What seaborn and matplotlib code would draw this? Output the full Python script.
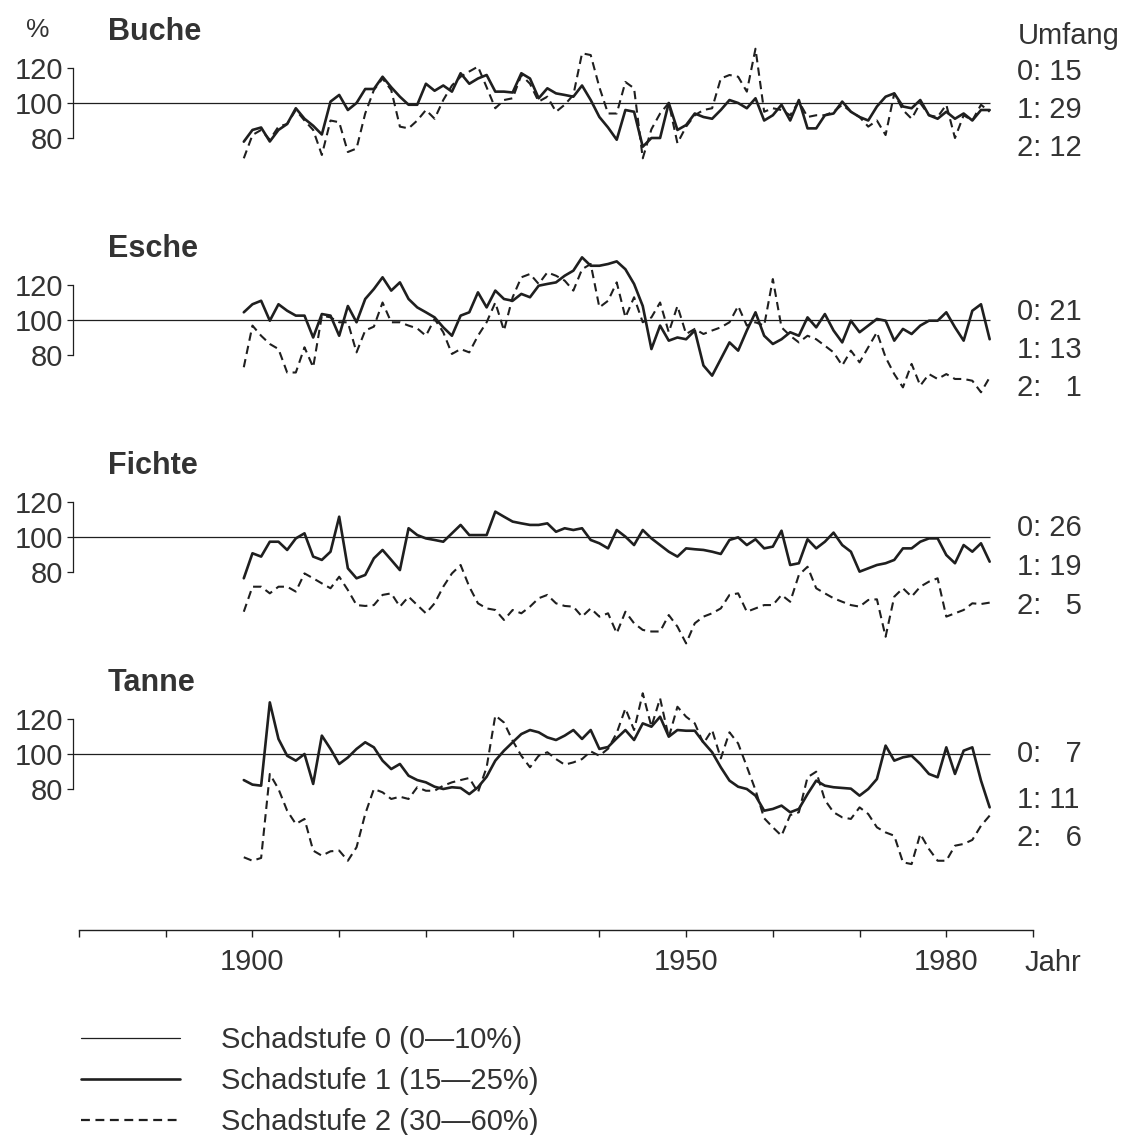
import matplotlib
matplotlib.use("Agg")
import matplotlib.pyplot as plt
import pandas as pd
import seaborn as sns
from matplotlib.lines import Line2D

# ---------------- data ----------------
years = list(range(1899, 1986))

buche_1 = [77.9, 84.6, 86, 78, 84.6, 88, 97, 91, 87, 82, 100.8, 104.6, 96, 100, 108, 108, 115, 109,
           103.6, 99, 99, 111, 107, 110, 106.5, 117, 111, 114, 116, 106.5, 106.5, 106, 117, 114, 102.7,
           108.4, 105.5, 104.6, 103.6, 110, 101.7, 92, 86, 79, 96, 95, 75, 80, 80, 100, 84.6, 87.4, 94,
           92, 91, 96, 101.7, 100, 97, 102.7, 90, 93, 99, 90, 101.7, 85.5, 85.5, 93, 94, 100.8, 95, 92,
           90, 98, 103.6, 105.5, 98, 97, 101.7, 93, 91, 95, 91, 94, 90, 96, 96]
buche_2 = [68.4, 81.7, 84.6, 79, 86.5, 88, 96, 90, 84.6, 70.3, 90, 89, 72, 74, 94, 107.4, 114, 107.4,
           86.5, 85.5, 90, 96, 91, 101.7, 110, 115, 118, 120.8, 109, 97, 101.7, 102.7, 116, 111, 100.8,
           103.6, 95, 99, 104.6, 128.4, 127.4, 109, 94, 94, 112, 108.4, 68.4, 85, 94, 100, 77, 86.5, 93,
           96, 97, 114, 116, 115, 106.5, 131, 95, 97, 96, 93, 100.8, 92, 93, 93, 95, 99, 95, 92, 86.5,
           90, 81.7, 105.5, 96, 91, 100, 93, 92, 99, 80, 93, 90, 99, 95]

esche_1 = [104.4, 109, 111, 99.6, 109, 105.3, 102.5, 102.5, 90, 103.4, 102.5, 91, 108, 98.7, 112, 117.7,
           124.4, 116.8, 121.5, 112, 107.2, 104.4, 101.5, 95.8, 91, 102.5, 104.4, 115.8, 107.2, 116.8,
           112, 111, 114.9, 113, 119.6, 120.6, 121.5, 125.3, 128.2, 135.8, 131, 131, 132, 133.5, 129,
           120.6, 108, 83.4, 96.8, 88.2, 90, 89, 94, 74, 68.2, 77.7, 87.2, 82.5, 94, 104.4, 91, 86.3, 89,
           93, 91, 101.5, 95.8, 103.4, 94, 87.2, 99.6, 93, 96.8, 100.6, 99.6, 88.2, 94.9, 92, 96.8, 99.6,
           99.6, 104.4, 95.8, 88.2, 105.3, 109, 89]
esche_2 = [73, 96.8, 91, 86.3, 83.4, 70, 70, 84.4, 73, 102.5, 101.5, 98.7, 98.7, 81.5, 94, 96.2, 110,
           98.7, 98.7, 96.8, 95.2, 91, 100.6, 93, 80.6, 83.4, 81.5, 91, 98.7, 110, 94, 113, 124.4, 126.3,
           120.6, 127.2, 125.3, 122.5, 116.8, 129, 132, 107.2, 111, 121.5, 101.5, 113, 98.7, 101.5, 110,
           93, 108, 92, 94.9, 92, 94, 95.8, 98.7, 108, 96.8, 98.7, 96.8, 123.4, 95.8, 91, 87.2, 91, 89,
           85.3, 81.5, 74, 82.5, 75.8, 84.4, 93, 78.7, 69.1, 61.5, 74.9, 62.5, 69.1, 66.3, 69.1, 66.3,
           66.3, 65.3, 58.7, 67.2]

fichte_1 = [76.4, 90.7, 88.8, 97.3, 97.3, 92.6, 99.2, 102.1, 88.8, 86.9, 91.6, 111.6, 82.1, 76.4, 78.3,
            87.8, 92.6, 86.9, 81.1, 105, 101.1, 99.2, 98.3, 97.3, 102.1, 106.9, 101.1, 101.1, 101.1,
            114.5, 111.6, 108.8, 107.8, 106.9, 106.9, 107.8, 103, 105, 104, 105, 98.3, 96.4, 93.5, 104,
            100.2, 95.4, 104, 99.2, 95.4, 91.6, 88.8, 93.5, 93, 92.6, 91.6, 90.3, 98.3, 99.8, 95.4, 98.7,
            93.5, 94.5, 103.6, 84, 85, 98.7, 93.5, 97.3, 102.5, 95.4, 91.6, 80.2, 82.1, 84, 85, 86.9,
            93.5, 93.5, 97.3, 99.2, 99.2, 89.7, 85, 95.4, 91.6, 96.4, 85.9]
fichte_2 = [57.3, 71.6, 71.6, 67.8, 71.6, 71.6, 68.8, 79.2, 76.4, 73.5, 70.7, 77.3, 69.7, 61.1, 60.6,
            61.1, 66.9, 67.8, 60.2, 65.9, 61.1, 56.4, 62.1, 71.6, 79.2, 84, 71.6, 62.1, 59.2, 58.3, 52.6,
            58.3, 56.4, 60.2, 65, 66.9, 62.1, 60.6, 60.2, 54.5, 59.2, 54.5, 56.4, 45, 57.3, 50.7, 46.9,
            46, 46, 55.4, 48.8, 39.2, 50.7, 54.5, 56.4, 59.2, 66.9, 67.8, 57.3, 59.2, 61.1, 61.1, 66.9,
            63, 78.3, 83, 70.7, 67.8, 65, 63, 61.1, 60.2, 64, 64.4, 43, 65.9, 70.7, 65.9, 71.6, 74.5,
            76.4, 54.5, 56.4, 58.3, 62.1, 61.7, 62.5]

tanne_1 = [85.1, 82.5, 81.9, 129.5, 108.6, 99, 96.2, 100, 82.9, 110.5, 102.9, 94.3, 98, 102.9, 106.7,
           103.8, 96.2, 91.4, 94.3, 87.6, 85.1, 83.8, 81.3, 80, 81, 80.6, 77.1, 81, 87, 96.2, 101.9,
           106.7, 111.4, 113.7, 112.4, 109.5, 108, 110.5, 113.7, 108.6, 113.7, 102.9, 104, 109, 113.7,
           108, 117.5, 115.6, 121.3, 109.9, 113.7, 113.3, 113.3, 106.7, 101, 92.4, 84.8, 81.3, 80, 76.2,
           67.6, 68.6, 70.5, 66.7, 68.6, 77.1, 84.8, 81.9, 81, 80.6, 80.2, 76.2, 80, 85.7, 104.8, 96.2,
           98.1, 99, 94.3, 88.6, 86.7, 103.8, 88.6, 101.9, 103.8, 84.8, 69.5]
tanne_2 = [41, 39, 40.6, 88.6, 80, 67.6, 60, 62.9, 44.8, 41.9, 44.4, 44.8, 39, 46.7, 65.7, 80, 78.1,
           74.3, 75.6, 74.3, 81, 79, 79, 81.9, 83.8, 85.1, 86.3, 78.1, 92.4, 122, 118, 107.6, 99, 92.4,
           99, 101, 97.1, 93.9, 95.2, 97.1, 101.5, 99, 103, 112, 126, 113.7, 134.7, 115.6, 131.8, 109.5,
           127, 121.3, 117.5, 106, 113.7, 97.5, 112.4, 106, 92.8, 79.4, 63.3, 58.1, 53.3, 65.1, 66.7,
           86.7, 89.9, 73.7, 66.7, 63.8, 62.9, 69.5, 65.7, 58.1, 55.2, 53.3, 38.1, 37.1, 54.3, 45.7, 39,
           39, 47.6, 48.6, 50.9, 59, 64.8]

species = ["Buche", "Esche", "Fichte", "Tanne"]
stufe1 = [buche_1, esche_1, fichte_1, tanne_1]
stufe2 = [buche_2, esche_2, fichte_2, tanne_2]
umfang_0 = [15, 21, 26, 7]
umfang_1 = [29, 13, 19, 11]
umfang_2 = [12, 1, 5, 6]
reference_level = 100
y_ticks = [80, 100, 120]
x_ticks = list(range(1880, 1991, 10))
x_labelled = [1900, 1950, 1980]
legend_labels = ["Schadstufe 0 (0\u201410%)",
                 "Schadstufe 1 (15\u201425%)",
                 "Schadstufe 2 (30\u201460%)"]

# ---------------- style ----------------
sns.set_theme(style="ticks")
plt.rcParams["font.family"] = ["Liberation Sans", "DejaVu Sans"]
INK = "#1f1f1f"
TXT = "#333333"
FS = 21
DASH = (0, (4, 2.5))

W, H = 1127, 1135
fig = plt.figure(figsize=(W / 100, H / 100), dpi=100)

PX_PER_YEAR = 8.673
X1880_PX = 79
XLIM = (1875, 1995)
left_px = X1880_PX - (1880 - XLIM[0]) * PX_PER_YEAR
width_px = (XLIM[1] - XLIM[0]) * PX_PER_YEAR
PX_PER_UNIT = 1.75
YLIM = (30, 145)
panel_ref_px = [103, 320, 537, 754]
spine_year = 1879.3

for i, name in enumerate(species):
    top_px = panel_ref_px[i] - (YLIM[1] - reference_level) * PX_PER_UNIT
    h_px = (YLIM[1] - YLIM[0]) * PX_PER_UNIT
    ax = fig.add_axes([left_px / W, 1 - (top_px + h_px) / H, width_px / W, h_px / H])
    ax.patch.set_visible(False)
    df = pd.DataFrame({"Jahr": years, "s1": stufe1[i], "s2": stufe2[i]})

    ax.hlines(reference_level, spine_year, years[-1], color=INK, lw=0.9)
    sns.lineplot(data=df, x="Jahr", y="s1", ax=ax, color=INK, linewidth=1.9,
                 estimator=None, clip_on=False)
    sns.lineplot(data=df, x="Jahr", y="s2", ax=ax, color=INK, linewidth=1.5,
                 linestyle=DASH, estimator=None, clip_on=False)

    ax.set_xlim(*XLIM)
    ax.set_ylim(*YLIM)
    ax.set_xlabel("")
    ax.set_ylabel("")
    ax.set_xticks([])
    ax.set_yticks(y_ticks)
    for s in ["top", "right", "bottom"]:
        ax.spines[s].set_visible(False)
    ax.spines["left"].set_position(("data", spine_year))
    ax.spines["left"].set_bounds(y_ticks[0], y_ticks[-1])
    ax.spines["left"].set_linewidth(0.9)
    ax.spines["left"].set_color(INK)
    ax.tick_params(axis="y", left=True, direction="out", length=4, width=0.9,
                   pad=3, labelsize=FS, colors=INK, labelcolor=TXT)

    ax.text(1883.3, 140.5, name, fontsize=FS + 1, fontweight="bold", color=TXT,
            ha="left", va="center")
    if i == 0:
        ax.text(1875.2, 141.5, "%", fontsize=FS - 2, color=TXT, ha="center", va="center")
        ax.text(1988.2, 138.0, "Umfang", fontsize=FS, color=TXT, ha="left", va="center")

    ref = panel_ref_px[i]
    rows_px = [[72, 110, 148], [312, 350, 388], [528, 567, 606], [754, 800, 838]][i]
    for lvl, n, ypx in zip((0, 1, 2), (umfang_0[i], umfang_1[i], umfang_2[i]), rows_px):
        num = f"{n}" if n >= 10 else "\u2007" + f"{n}"
        ax.text(1988.2, reference_level - (ypx - ref) / PX_PER_UNIT, f"{lvl}: {num}",
                fontsize=FS, color=TXT, ha="left", va="center")

# bottom time axis
axis_px = 930
axx = fig.add_axes([left_px / W, 1 - axis_px / H, width_px / W, 20 / H])
axx.patch.set_visible(False)
axx.set_xlim(*XLIM)
axx.set_ylim(0, 1)
axx.set_yticks([])
for s in ["top", "right", "left"]:
    axx.spines[s].set_visible(False)
axx.spines["bottom"].set_bounds(x_ticks[0], x_ticks[-1])
axx.spines["bottom"].set_linewidth(1.0)
axx.spines["bottom"].set_color(INK)
axx.set_xticks(x_ticks)
axx.set_xticklabels([str(t) if t in x_labelled else "" for t in x_ticks])
axx.tick_params(axis="x", bottom=True, direction="out", length=5, width=1.0, pad=8,
                labelsize=FS, colors=INK, labelcolor=TXT)
fig.text(1025 / W, 1 - 963 / H, "Jahr", fontsize=FS, color=TXT, ha="left", va="center")

# legend
handles = [Line2D([], [], color=INK, lw=0.9),
           Line2D([], [], color=INK, lw=1.9),
           Line2D([], [], color=INK, lw=1.6, linestyle=DASH)]
fig.legend(handles, legend_labels, loc="upper left",
           bbox_to_anchor=(81 / W, 1 - 1026 / H), frameon=False, fontsize=FS,
           labelcolor=TXT, handlelength=3.4, handletextpad=1.4, labelspacing=0.45,
           borderaxespad=0, borderpad=0)

fig.savefig("out.png", dpi=100)
